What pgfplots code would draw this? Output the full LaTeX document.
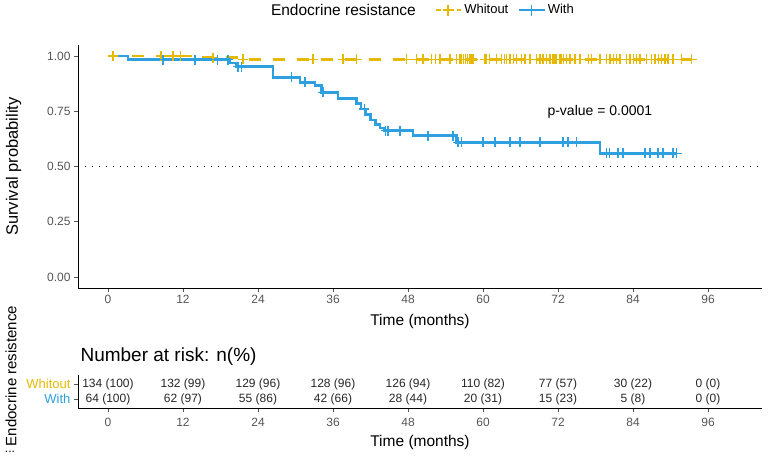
\documentclass[border=0pt]{standalone}
\usepackage{pgfplots}
\pgfplotsset{compat=1.18}
\usepackage{fontspec}
\setmainfont{Liberation Sans}
\definecolor{yel}{HTML}{E7B800}
\definecolor{blu}{HTML}{2E9FDF}
\definecolor{tickc}{HTML}{555555}

\pgfplotstableread[row sep=\\]{
x y\\
0 1\\
13.5 0.9925\\
21 0.985\\
93.5 0.985\\
}\yelstep

\pgfplotstableread[row sep=\\]{
x y\\
0 1\\
3.2 0.984\\
19.5 0.968\\
20.5 0.952\\
26.4 0.904\\
30.7 0.881\\
33.1 0.866\\
34.2 0.836\\
36.8 0.808\\
39.8 0.785\\
40.5 0.760\\
41.2 0.735\\
42.0 0.710\\
42.8 0.690\\
43.5 0.675\\
44.2 0.662\\
48.8 0.640\\
55.8 0.609\\
78.7 0.560\\
91.0 0.560\\
}\blustep

\pgfplotstableread[row sep=\\]{
x y\\
8.8 0.984\\
13.9 0.984\\
17.5 0.984\\
19.2 0.984\\
20.8 0.952\\
21.4 0.952\\
29.4 0.904\\
31.5 0.881\\
34.4 0.836\\
41.0 0.760\\
44.4 0.662\\
44.8 0.662\\
46.7 0.662\\
51.2 0.640\\
55.2 0.640\\
56.0 0.609\\
56.6 0.609\\
60.0 0.609\\
61.9 0.609\\
64.3 0.609\\
65.9 0.609\\
69.1 0.609\\
72.8 0.609\\
73.6 0.609\\
75.0 0.609\\
79.8 0.560\\
80.2 0.560\\
81.6 0.560\\
82.4 0.560\\
85.9 0.560\\
86.7 0.560\\
88.0 0.560\\
88.8 0.560\\
90.4 0.560\\
91.0 0.560\\
}\blucens

\pgfplotstableread[row sep=\\]{
x y\\
0.8 1\\
8.5 1\\
10.4 1\\
11.6 1\\
16.8 0.9925\\
21.6 0.985\\
32.8 0.985\\
37.6 0.985\\
39.8 0.985\\
47.8 0.985\\
49.4 0.985\\
50.4 0.985\\
51.8 0.985\\
52.4 0.985\\
53.1 0.985\\
54.7 0.985\\
55.8 0.985\\
56.3 0.985\\
56.6 0.985\\
56.9 0.985\\
57.2 0.985\\
57.5 0.985\\
57.8 0.985\\
58.1 0.985\\
58.4 0.985\\
60.3 0.985\\
60.6 0.985\\
61.0 0.985\\
62.2 0.985\\
63.0 0.985\\
63.4 0.985\\
63.8 0.985\\
64.3 0.985\\
64.9 0.985\\
65.4 0.985\\
66.2 0.985\\
66.7 0.985\\
67.5 0.985\\
68.6 0.985\\
69.1 0.985\\
69.6 0.985\\
70.2 0.985\\
70.7 0.985\\
71.2 0.985\\
71.5 0.985\\
71.8 0.985\\
72.3 0.985\\
72.6 0.985\\
72.9 0.985\\
73.4 0.985\\
73.9 0.985\\
74.7 0.985\\
75.5 0.985\\
76.9 0.985\\
77.4 0.985\\
78.7 0.985\\
79.8 0.985\\
80.3 0.985\\
80.9 0.985\\
81.4 0.985\\
81.9 0.985\\
83.0 0.985\\
83.5 0.985\\
84.1 0.985\\
84.6 0.985\\
85.1 0.985\\
86.2 0.985\\
87.0 0.985\\
87.5 0.985\\
88.1 0.985\\
88.6 0.985\\
89.1 0.985\\
89.6 0.985\\
90.4 0.985\\
91.8 0.985\\
93.4 0.985\\
}\yelcens

\begin{document}
\begin{tikzpicture}
\useasboundingbox (0pt,0pt) rectangle (768pt,460pt);

% ---------------- main survival plot ----------------
\begin{axis}[
  at={(78pt,172pt)}, anchor=south west,
  scale only axis, width=684pt, height=243pt,
  xmin=-4.8, xmax=104.64, ymin=-0.05, ymax=1.05,
  axis lines=left,
  axis line style={line width=0.9pt, -},
  xtick={0,12,24,36,48,60,72,84,96},
  ytick={0,0.25,0.5,0.75,1},
  yticklabels={0.00,0.25,0.50,0.75,1.00},
  tick align=outside, major tick length=4pt,
  tick style={tickc, line width=0.8pt},
  ticklabel style={font=\fontsize{12}{12}\selectfont, text=tickc},
  /pgf/number format/assume math mode=true,
  xlabel={Time (months)},
  ylabel={Survival probability},
  label style={font=\fontsize{15.5}{16}\selectfont},
  xlabel style={yshift=-3pt},
  ylabel style={yshift=19pt, font=\fontsize{16.5}{17}\selectfont},
  clip=false,
  legend columns=2,
  legend style={at={(axis description cs:0.52,1.144)}, anchor=west,
    draw=none, fill=none, font=\fontsize{13}{13}\selectfont,
    /tikz/every even column/.append style={column sep=7pt},
    inner sep=0pt},
  legend image code/.code={
    \draw[#1, mark repeat=2, mark phase=2] plot coordinates {(0pt,0pt) (13pt,0pt) (26pt,0pt)};},
]
\addlegendimage{yel, line width=2.4pt, dash pattern=on 5pt off 16pt, dash phase=-1pt, mark=+, mark size=5.5pt, mark options={solid, line width=1.4pt}}
\addlegendentry{Whitout}
\addlegendimage{blu, line width=2.4pt, mark=+, mark size=5.5pt, mark options={solid, line width=1.4pt}}
\addlegendentry{With}

\addplot[forget plot, black, line width=0.9pt, dash pattern=on 1pt off 6pt] coordinates {(-4.8,0.5) (104.64,0.5)};

\addplot[forget plot, const plot, yel, line width=2.6pt, dash pattern=on 12pt off 12pt] table[x=x,y=y] {\yelstep};
\addplot[forget plot, only marks, yel, mark=+, mark size=5pt, mark options={line width=1.3pt}] table[x=x,y=y] {\yelcens};

\addplot[forget plot, const plot, blu, line width=2.6pt] table[x=x,y=y] {\blustep};
\addplot[forget plot, only marks, blu, mark=+, mark size=5pt, mark options={line width=1.3pt}] table[x=x,y=y] {\blucens};

\node[font=\fontsize{14}{14}\selectfont] at (axis cs:78.7,0.748) {p-value = 0.0001};
\node[anchor=east, font=\fontsize{15.5}{16}\selectfont] at (axis description cs:0.499,1.144) {Endocrine resistance};
\end{axis}

% ---------------- risk table ----------------
\begin{axis}[
  at={(78pt,52pt)}, anchor=south west,
  scale only axis, width=684pt, height=33pt,
  xmin=-4.8, xmax=104.64, ymin=0.4, ymax=2.6,
  axis lines=left,
  axis line style={line width=0.9pt, -},
  xtick={0,12,24,36,48,60,72,84,96},
  ytick={1,2},
  yticklabels={\textcolor{blu}{With},\textcolor{yel}{Whitout}},
  tick align=outside, major tick length=4pt,
  tick style={tickc, line width=0.8pt},
  xticklabel style={font=\fontsize{12}{12}\selectfont, text=tickc, yshift=-3pt},
  yticklabel style={font=\fontsize{13}{13}\selectfont},
  /pgf/number format/assume math mode=true,
  xlabel={Time (months)},
  label style={font=\fontsize{15.5}{16}\selectfont},
  xlabel style={yshift=-1pt},
  clip=false,
]
\addplot[draw=none, mark=none, nodes near coords, point meta=explicit symbolic,
  nodes near coords style={anchor=center, font=\fontsize{12}{12}\selectfont, text=black!85}]
  table[col sep=comma, row sep=\\, x=x, y=y, meta=label] {
x,y,label\\
0,2,134 (100)\\
12,2,132 (99)\\
24,2,129 (96)\\
36,2,128 (96)\\
48,2,126 (94)\\
60,2,110 (82)\\
72,2,77 (57)\\
84,2,30 (22)\\
96,2,0 (0)\\
0,1,64 (100)\\
12,1,62 (97)\\
24,1,55 (86)\\
36,1,42 (66)\\
48,1,28 (44)\\
60,1,20 (31)\\
72,1,15 (23)\\
84,1,5 (8)\\
96,1,0 (0)\\
};
\end{axis}

\node[anchor=west, font=\fontsize{19}{20}\selectfont] at (77pt,103pt) {Number at risk: n(\%)};
\node[rotate=90, font=\fontsize{15}{16}\selectfont] at (11pt,84pt) {Endocrine resistence};
\node[font=\fontsize{12}{12}\selectfont] at (10pt,8pt) {...};
\end{tikzpicture}
\end{document}
